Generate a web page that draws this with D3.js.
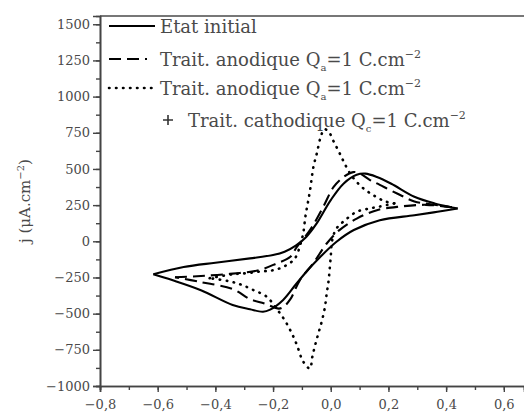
<!DOCTYPE html>
<html>
<head>
<meta charset="utf-8">
<script src="https://cdn.jsdelivr.net/npm/d3@7"></script>
<style>
  body { margin: 0; background: #fff; }
  svg { display: block; }
  text { font-family: "DejaVu Serif", serif; fill: #4a4a4a; }
</style>
</head>
<body>
<svg id="chart" width="524" height="414"></svg>
<script>
// Voltammogrammes, j en fonction de E (V)
// chaque courbe : balayage aller (gauche -> droite) et retour

var xTicks = [-0.8, -0.6, -0.4, -0.2, 0.0, 0.2, 0.4, 0.6];
var yTicks = [-1000, -750, -500, -250, 0, 250, 500, 750, 1000, 1250, 1500];

var initialAller = [[-0.615,-228],[-0.51,-178],[-0.40,-148],[-0.28,-118],[-0.20,-95],[-0.16,-72],[-0.12,-28],
  [-0.085,30],[-0.05,120],[0,285],[0.045,400],[0.09,460],[0.12,468],[0.16,445],[0.21,398],[0.29,308],[0.36,262],[0.44,227]];
var initialRetour = [[0.44,227],[0.37,204],[0.29,180],[0.17,146],[0.08,78],[0.02,-3],[-0.04,-115],[-0.08,-200],
  [-0.12,-295],[-0.165,-405],[-0.21,-472],[-0.235,-487],[-0.28,-470],[-0.34,-440],[-0.45,-338],[-0.55,-268],[-0.615,-228]];

var anod1Aller = [[-0.54,-248],[-0.45,-240],[-0.35,-225],[-0.25,-200],[-0.19,-155],[-0.14,-107],[-0.118,-40],
  [-0.072,77],[-0.026,238],[0.01,376],[0.045,445],[0.078,478],[0.1,470],[0.136,423],[0.16,400],[0.23,330],[0.29,275],[0.34,258],[0.42,235]];
var anod1Retour = [[0.42,235],[0.33,252],[0.24,240],[0.16,215],[0.09,157],[0.03,77],[-0.014,-15],[-0.06,-150],
  [-0.107,-268],[-0.14,-400],[-0.165,-455],[-0.18,-465],[-0.23,-430],[-0.28,-400],[-0.34,-330],[-0.45,-282],[-0.54,-248]];

var anod2Aller = [[-0.42,-255],[-0.34,-228],[-0.29,-220],[-0.24,-208],[-0.2,-200],[-0.16,-172],[-0.125,-120],
  [-0.105,-20],[-0.095,60],[-0.088,170],[-0.08,260],[-0.072,350],[-0.06,515],[-0.048,610],[-0.035,720],[-0.022,775],
  [-0.005,750],[0.01,690],[0.028,620],[0.045,550],[0.07,460],[0.107,376],[0.148,318],[0.19,275],[0.22,262]];
var anod2Retour = [[0.22,262],[0.17,240],[0.135,227],[0.09,204],[0.05,146],[0.02,89],[0.005,8],[0.0,-107],
  [-0.008,-280],[-0.014,-360],[-0.02,-452],[-0.03,-545],[-0.042,-630],[-0.054,-717],[-0.064,-800],[-0.072,-880],
  [-0.085,-860],[-0.1,-814],[-0.116,-724],[-0.135,-636],[-0.16,-544],[-0.19,-460],[-0.222,-383],[-0.268,-337],
  [-0.31,-300],[-0.355,-275],[-0.42,-255]];

var svg = d3.select("#chart"),
    margin = {top: 16, left: 100, bottom: 28, right: 0},
    width = +svg.attr("width"),
    height = +svg.attr("height");

var x = d3.scaleLinear()
    .domain([-0.8, 0.67])
    .range([margin.left, width - margin.right]);

var y = d3.scaleLinear()
    .domain([-1000, 1557])
    .range([height - margin.bottom, margin.top]);

var fmt = function(d) {
    return d3.format(".1f")(d).replace(".", ",").replace("-", "\u2212");
};

// cadre du haut
svg.append("line")
    .attr("x1", margin.left).attr("x2", width)
    .attr("y1", margin.top).attr("y2", margin.top)
    .attr("stroke", "#777").attr("stroke-width", 2);

// axe x : ticks majeurs + mineurs
var xAxis = svg.append("g")
    .attr("transform", `translate(0,${y(-1000)})`);
xAxis.call(d3.axisBottom(x).tickValues(d3.range(-0.8, 0.65, 0.1)).tickSize(4).tickFormat(""));
xAxis.append("g").call(d3.axisBottom(x).tickValues(xTicks).tickSize(6).tickFormat(fmt));

var yAxis = svg.append("g")
    .attr("transform", `translate(${margin.left},0)`);
yAxis.call(d3.axisLeft(y).tickValues(d3.range(-1000, 1560, 125)).tickSize(4).tickFormat(""));
yAxis.append("g").call(d3.axisLeft(y).tickValues(yTicks).tickSize(7)
    .tickFormat(d => String(d).replace("-", "\u2212")));

svg.selectAll(".domain").attr("stroke", "#444").attr("stroke-width", 1.6);
svg.selectAll(".tick line").attr("stroke", "#444").attr("stroke-width", 1.4);
svg.selectAll(".tick text").style("font-size", "13px").attr("fill", "#4a4a4a");
xAxis.selectAll(".tick text").attr("dy", "1.05em");

// titre axe y
var ylab = svg.append("text")
    .attr("transform", "translate(30,201) rotate(-90)")
    .attr("text-anchor", "middle")
    .style("font-size", "15px");
ylab.append("tspan").text("j (\u03bcA.cm");
ylab.append("tspan").attr("dy", -6).style("font-size", "10px").text("\u22122");
ylab.append("tspan").attr("dy", 6).text(")");

// courbes
var line = d3.line()
    .x(d => x(d[0]))
    .y(d => y(d[1]))
    .curve(d3.curveCatmullRom.alpha(0.5));

var styles = [
    {dash: null, width: 2.1, cap: "butt"},
    {dash: "12,6", width: 2.1, cap: "butt"},
    {dash: "0.5,6.5", width: 2.6, cap: "round"}
];

var curves = [
    {branches: [initialAller, initialRetour], s: styles[0]},
    {branches: [anod1Aller, anod1Retour], s: styles[1]},
    {branches: [anod2Aller, anod2Retour], s: styles[2]}
];

curves.forEach(function(c) {
    c.branches.forEach(function(b) {
        svg.append("path")
            .datum(b)
            .attr("d", line)
            .attr("fill", "none")
            .attr("stroke", "#000")
            .attr("stroke-width", c.s.width)
            .attr("stroke-linecap", c.s.cap)
            .attr("stroke-dasharray", c.s.dash);
    });
});

// légende
var legend = svg.append("g");
var rows = [
    {y: 26, label: "Etat initial", style: styles[0], x2: 155},
    {y: 59, label: "Trait. anodique Q", sub: "a", rest: "=1 C.cm", style: styles[1], x2: 147},
    {y: 88, label: "Trait. anodique Q", sub: "a", rest: "=1 C.cm", style: styles[2], x2: 155},
    {y: 120, label: "Trait. cathodique Q", sub: "c", rest: "=1 C.cm", plus: true}
];

rows.forEach(function(r) {
    if (r.plus) {
        legend.append("path")
            .attr("d", `M${168 - 5},${r.y}h10M168,${r.y - 5}v10`)
            .attr("stroke", "#333").attr("stroke-width", 1.6);
    } else {
        legend.append("line")
            .attr("x1", 109).attr("x2", r.x2)
            .attr("y1", r.y).attr("y2", r.y)
            .attr("stroke", "#000")
            .attr("stroke-width", r.style.width)
            .attr("stroke-linecap", r.style.cap)
            .attr("stroke-dasharray", r.style.dash);
    }
    var t = legend.append("text")
        .attr("x", r.plus ? 188 : 160)
        .attr("y", r.y + 7)
        .style("font-size", "18px");
    t.append("tspan").text(r.label);
    if (r.sub) {
        t.append("tspan").attr("dy", 5).style("font-size", "10px").text(r.sub);
        t.append("tspan").attr("dy", -5).text(r.rest);
        t.append("tspan").attr("dy", -8).style("font-size", "11px").text("\u22122");
    }
});
</script>
</body>
</html>
